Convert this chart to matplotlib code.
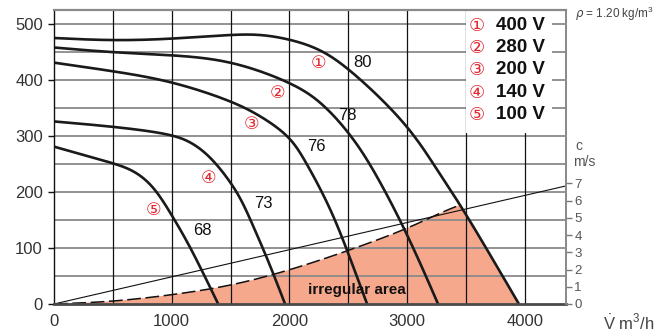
import numpy as np
import matplotlib
matplotlib.use("Agg")
import matplotlib.pyplot as plt
from matplotlib.patches import Rectangle

plt.rcParams['font.family'] = ['Liberation Sans', 'DejaVu Sans']
plt.rcParams['mathtext.fontset'] = 'custom'
plt.rcParams['mathtext.rm'] = 'Liberation Sans'

# Fan curves: volume flow (m3/h) vs static pressure (Pa)
v_400 = [0, 500, 985, 1495, 1750, 2004, 2260, 2514, 3000, 3250, 3450, 3700, 3950]
p_400 = [475, 470, 473, 481, 482, 473, 456, 420, 323, 241, 178, 90, 0]
v_280 = [0, 500, 985, 1495, 2004, 2260, 2514, 2710, 3000, 3263]
p_280 = [458, 449, 445, 436, 397, 364, 305, 243, 127, 0]
v_200 = [0, 500, 985, 1495, 1750, 2004, 2132, 2345, 2500, 2660]
p_200 = [431, 416, 399, 364, 337, 300, 257, 174, 91, 0]
v_140 = [0, 500, 1000, 1190, 1360, 1563, 1670, 1820, 1963]
p_140 = [326, 317, 304, 287, 257, 200, 150, 78, 0]
v_100 = [0, 250, 495, 680, 850, 1000, 1160, 1395]
p_100 = [281, 266, 252, 239, 210, 159, 102, 0]

# Boundary of the irregular operating area
v_irr = [0, 500, 1000, 1500, 2000, 2500, 3000, 3250, 3450]
p_irr = [0, 4, 16, 32, 60, 95, 134, 160, 177]

# Duct air velocity line (right axis, m/s)
v_vel = [0, 4350]
c_vel = [0, 6.85]

voltages = ["400 V", "280 V", "200 V", "140 V", "100 V"]
circles = ["\u2460", "\u2461", "\u2462", "\u2463", "\u2464"]
sound_levels = ["80", "78", "76", "73", "68"]

x_ticks = [0, 1000, 2000, 3000, 4000]
y_ticks = [0, 100, 200, 300, 400, 500]
c_ticks = [0, 1, 2, 3, 4, 5, 6, 7]


def smooth_curve(x, y, per_seg=40):
    """Cubic B-spline through the ends, shaped by the intermediate points."""
    P = np.column_stack([x, y]).astype(float)
    P = np.vstack([P[0], P[0], P, P[-1], P[-1]])
    t = np.linspace(0, 1, per_seg, endpoint=False)[:, None]
    b0 = (1 - t) ** 3 / 6
    b1 = (3 * t**3 - 6 * t**2 + 4) / 6
    b2 = (-3 * t**3 + 3 * t**2 + 3 * t + 1) / 6
    b3 = t**3 / 6
    out = []
    for i in range(len(P) - 3):
        out.append(b0 * P[i] + b1 * P[i + 1] + b2 * P[i + 2] + b3 * P[i + 3])
    out.append(P[-1][None, :])
    pts = np.vstack(out)
    return pts[:, 0], pts[:, 1]


W, H = 659, 336
fig = plt.figure(figsize=(W / 100, H / 100), dpi=100)
left, right, top, bottom = 54, 566, 10, 304
ax = fig.add_axes([left / W, 1 - bottom / H, (right - left) / W, (bottom - top) / H])
ax.set_xlim(0, 4350)
ax.set_ylim(0, 525)

# grid
for yv in range(50, 525, 50):
    ax.axhline(yv, color='#8a8a8a', lw=1.3, zorder=0.5)
for xv in range(500, 4350, 500):
    ax.axvline(xv, color='#111111', lw=0.9, zorder=0.5)

curves = [smooth_curve(v, p) for v, p in
          [(v_400, p_400), (v_280, p_280), (v_200, p_200), (v_140, p_140), (v_100, p_100)]]

# irregular area fill
xi, yi = smooth_curve(v_irr, p_irr)
x1, y1 = curves[0]
tail = x1 > xi[-1]
poly_x = np.concatenate([xi, x1[tail], [0]])
poly_y = np.concatenate([yi, y1[tail], [0]])
ax.fill(poly_x, poly_y, color='#F6A88D', lw=0, zorder=0.3)
ax.plot(xi, yi, color='#111111', lw=1.1, dashes=(9, 3), zorder=1.5)

# white panel behind the voltage legend
ax.add_patch(Rectangle((3500, 305), 730, 220, facecolor='white', edgecolor='none', zorder=0.8))

# velocity line drawn in right-axis units
scale = 215.5 / 7.0
ax.plot(np.array(v_vel), np.array(c_vel) * scale, color='#111111', lw=0.8, zorder=1.6)

# fan curves
for xs, ys in curves:
    ax.plot(xs, ys, color='#1a1a1a', lw=1.9, zorder=2, solid_capstyle='butt')

# curve annotations
red = '#E3262F'
circ_pos = [(2245, 430), (1897, 376), (1679, 321), (1311, 225), (843, 168)]
for (x, y), c in zip(circ_pos, circles):
    ax.text(x, y, c, color=red, fontsize=12.5, ha='center', va='center', zorder=3,
            family=['DejaVu Sans'])
lvl_pos = [(2625, 432), (2495, 336), (2225, 281), (1775, 180), (1260, 131)]
for (x, y), s in zip(lvl_pos, sound_levels):
    ax.text(x, y, s, color='#111111', fontsize=12, ha='center', va='center', zorder=3)

ax.text(2570, 25, "irregular area", fontsize=11, fontweight='bold', color='#111111',
        ha='center', va='center', zorder=3)

# voltage legend
leg_y = [497, 458, 418, 377, 338]
for yv, c, s in zip(leg_y, circles, voltages):
    ax.text(3520, yv, c, color=red, fontsize=13, ha='left', va='center', zorder=3,
            family=['DejaVu Sans'])
    ax.text(3755, yv, s, color='#111111', fontsize=13.5, fontweight='bold',
            ha='left', va='center', zorder=3)

# axes styling
ax.set_xticks(x_ticks)
ax.set_yticks(y_ticks)
ax.tick_params(axis='x', length=0, pad=7, labelsize=12, labelcolor='#333333')
ax.tick_params(axis='y', length=4, width=1, color='#111111', pad=4,
               labelsize=12, labelcolor='#333333')
ax.spines['left'].set_color('#111111')
ax.spines['left'].set_linewidth(1.0)
ax.spines['top'].set_color('#8a8a8a')
ax.spines['top'].set_linewidth(1.6)
ax.spines['bottom'].set_color('#4a4a4a')
ax.spines['bottom'].set_linewidth(2.0)
ax.spines['right'].set_color('#8a8a8a')
ax.spines['right'].set_linewidth(1.3)

ax2 = ax.twinx()
ax2.set_ylim(0, 525 / scale)
ax2.set_yticks(c_ticks)
ax2.tick_params(axis='y', length=4, width=1, color='#777777', pad=2,
                labelsize=9.5, labelcolor='#555555')
for s in ['left', 'top', 'bottom']:
    ax2.spines[s].set_visible(False)
ax2.spines['right'].set_color('#8a8a8a')
ax2.spines['right'].set_linewidth(1.3)

fig.text(575 / W, 1 - 146 / H, "c", fontsize=10, color='#555555', va='center', ha='left')
fig.text(573 / W, 1 - 162 / H, "m/s", fontsize=10, color='#555555', va='center', ha='left')
fig.text(575 / W, 1 - 14 / H, r"$\rho$ = 1.20 kg/m$^3$", fontsize=8.5, color='#444444',
         va='center', ha='left')
fig.text(603 / W, 1 - 322 / H, r"$\dot{\mathrm{V}}$ m$^3$/h", fontsize=12, color='#444444',
         va='center', ha='left')

fig.savefig("out.png", dpi=100)
